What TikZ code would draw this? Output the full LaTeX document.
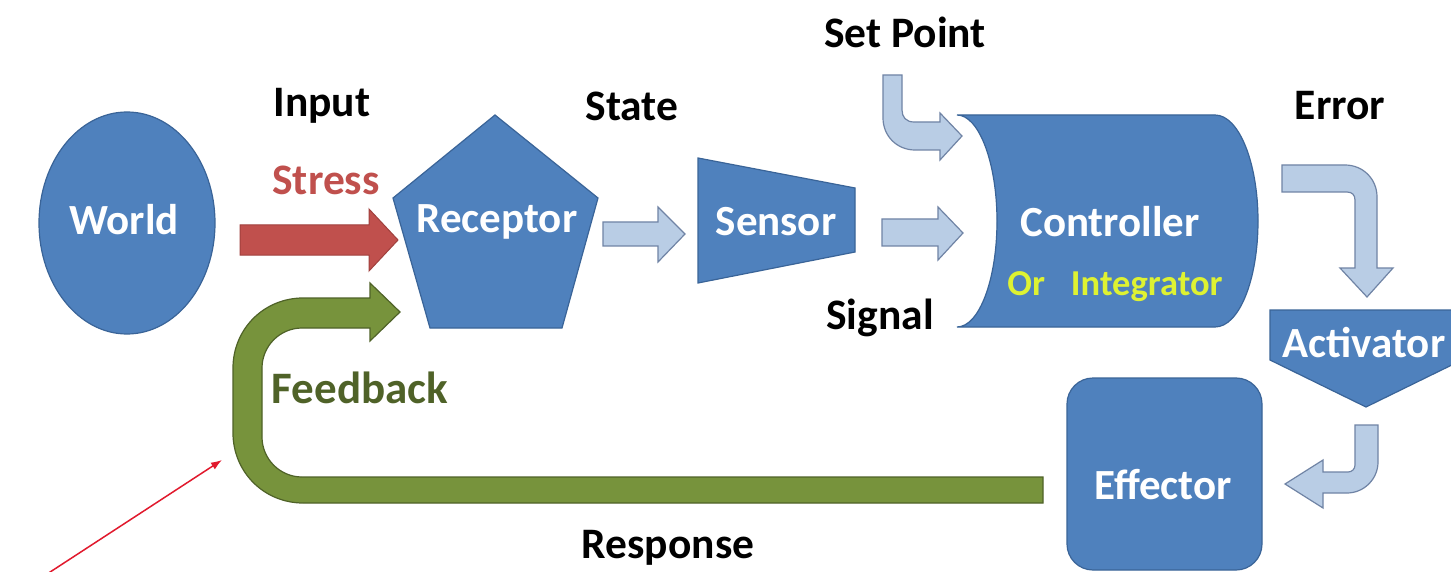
\documentclass[tikz,border=0pt]{standalone}
\usepackage{fontspec}
\setmainfont{Carlito}
\usetikzlibrary{arrows.meta}
\definecolor{blu}{RGB}{79,129,189}
\definecolor{bluline}{RGB}{58,100,152}
\definecolor{lite}{RGB}{185,205,229}
\definecolor{liteline}{RGB}{112,132,165}
\definecolor{redf}{RGB}{192,80,77}
\definecolor{redline}{RGB}{160,64,61}
\definecolor{grn}{RGB}{119,147,60}
\definecolor{grnline}{RGB}{79,98,40}
\definecolor{yel}{RGB}{222,242,50}
\definecolor{thinred}{RGB}{225,25,45}
\tikzset{
  blueshape/.style={fill=blu, draw=bluline, line width=1.2pt},
  litearrow/.style={fill=lite, draw=liteline, line width=1.2pt, line join=miter},
  lbl/.style={font=\fontsize{43.5}{50}\selectfont\bfseries, text=black, inner sep=0pt},
  wlbl/.style={font=\fontsize{43}{50}\selectfont\bfseries, text=white, inner sep=0pt},
}
\begin{document}
\begin{tikzpicture}[x=1pt,y=-1pt]
\useasboundingbox (0,0) rectangle (1451,572);
\clip (0,0) rectangle (1451,572);
\fill[white] (0,0) rectangle (1451,572);

% World
\draw[blueshape] (127,223) ellipse [x radius=88, y radius=111];
\node[wlbl] (world) at (124,220) {World};

% Receptor pentagon
\draw[blueshape] (495,115) -- (598,198) -- (562,328) -- (430,328) -- (393,198) -- cycle;
\node[wlbl] (receptor) at (497,222) {Receptor};

% Sensor trapezoid
\draw[blueshape] (698,158) -- (855,188) -- (855,252) -- (698,283) -- cycle;
\node[wlbl] (sensor) at (776,222) {Sensor};

% Controller
\draw[blueshape] (957,115) -- (1215,115)
  .. controls (1239,115) and (1258,163) .. (1258,221)
  .. controls (1258,280) and (1239,327) .. (1215,327)
  -- (957,327)
  .. controls (979,327) and (997,280) .. (997,221)
  .. controls (997,163) and (979,115) .. (957,115) -- cycle;
\node[wlbl] (controller) at (1110,222) {Controller};
\node[font=\fontsize{36.5}{42}\selectfont\bfseries, text=yel, inner sep=0pt] (integrator) at (1115,287) {Or\hspace{26pt}Integrator};

% Activator
\draw[blueshape] (1270,310) -- (1462,310) -- (1462,360) -- (1366,407) -- (1270,360) -- cycle;
\node[wlbl] (activator) at (1364,343) {Activator};

% Effector
\draw[blueshape, rounded corners=26pt] (1067,378) rectangle (1262,570);
\node[wlbl] (effector) at (1163,485) {Effector};

% Labels
\node[lbl] (input) at (322,106) {Input};
\node[lbl] (state) at (632,106) {State};
\node[lbl] (setpoint) at (905,32) {Set Point};
\node[lbl] (error) at (1340,106) {Error};
\node[lbl] (signal) at (880,318) {Signal};
\node[lbl] (response) at (668,548) {Response};
\node[lbl, text=redf] (stress) at (326,180) {Stress};
\node[lbl, font=\fontsize{45}{50}\selectfont\bfseries, text=grnline] (feedback) at (360,388) {Feedback};

% Stress arrow (red)
\draw[fill=redf, draw=redline, line width=1pt] (240,225) -- (369,225) -- (369,209) -- (398,240) -- (369,271) -- (369,255) -- (240,255) -- cycle;

% Receptor -> Sensor
\draw[litearrow] (603,222) -- (658,222) -- (658,207) -- (685,234) -- (658,262) -- (658,246) -- (603,246) -- cycle;

% Sensor -> Controller
\draw[litearrow] (882,219) -- (938,219) -- (938,207) -- (963,233) -- (938,260) -- (938,246) -- (882,246) -- cycle;

% Set point bent arrow
\draw[litearrow] (883,75) -- (902,75) -- (902,110)
  .. controls (902,117) and (906,122) .. (914,122)
  -- (940,122) -- (940,113) -- (962,136) -- (940,160) -- (940,150) -- (915,150)
  .. controls (897,150) and (883,136) .. (883,118) -- cycle;

% Error bent arrow
\draw[litearrow] (1282,165) -- (1345,165)
  .. controls (1363,165) and (1377,179) .. (1377,197)
  -- (1377,268) -- (1393,268) -- (1367,297) -- (1340,268) -- (1355,268) -- (1355,200)
  .. controls (1355,195) and (1352,192) .. (1347,192)
  -- (1282,192) -- cycle;

% Activator -> Effector bent arrow
\draw[litearrow] (1355,425) -- (1378,425) -- (1378,462)
  .. controls (1378,479) and (1364,493) .. (1347,493)
  -- (1323,493) -- (1323,508) -- (1285,484) -- (1323,460) -- (1323,472) -- (1348,472)
  .. controls (1352,472) and (1355,469) .. (1355,465) -- cycle;

% Feedback (green)
\draw[fill=grn, draw=grnline, line width=1.2pt] (1043,477) -- (302,477)
  .. controls (280,477) and (262,459) .. (262,437)
  -- (262,368)
  .. controls (262,346) and (280,328) .. (302,328)
  -- (370,328) -- (370,341) -- (400,312) -- (370,283) -- (370,298) -- (303,298)
  .. controls (264,298) and (233,329) .. (233,368)
  -- (233,433)
  .. controls (233,472) and (264,503) .. (303,503)
  -- (1043,503) -- cycle;

% thin red pointer
\coordinate (ptrstart) at (44,576);
\coordinate (ptrend) at (222,460);
\draw[thinred, line width=1.5pt, -{Latex[length=11pt,width=8pt]}] (ptrstart) -- (ptrend);
\end{tikzpicture}
\end{document}
